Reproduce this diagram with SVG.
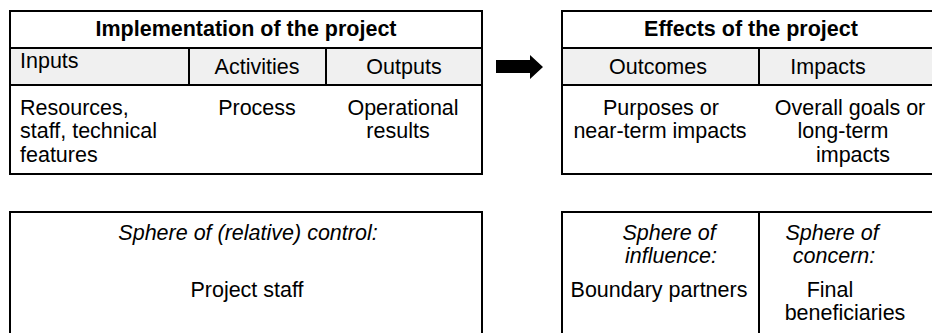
<svg xmlns="http://www.w3.org/2000/svg" width="932" height="333" viewBox="0 0 932 333">
  <style>
    .frame { fill: #ffffff; stroke: #000000; stroke-width: 2; }
    .band { fill: #f0f0f0; stroke: #000000; stroke-width: 2; }
    .rule { stroke: #000000; stroke-width: 2; }
    text { font-family: "Liberation Sans", Arial, sans-serif; font-size: 21.5px; fill: #000000; }
    .c { text-anchor: middle; }
    .b { font-weight: bold; }
    .i { font-style: italic; }
  </style>

  <rect width="932" height="333" fill="#ffffff"/>

  <!-- Implementation of the project -->
  <g id="implementation">
    <rect class="frame" x="10" y="11" width="472" height="163"/>
    <rect class="band" x="10" y="48" width="472" height="37"/>
    <line class="rule" x1="189" y1="48" x2="189" y2="85"/>
    <line class="rule" x1="326" y1="48" x2="326" y2="85"/>
    <text class="c b" x="246" y="36">Implementation of the project</text>
    <text x="20" y="68">Inputs</text>
    <text class="c" x="257" y="74">Activities</text>
    <text class="c" x="404" y="74">Outputs</text>
    <text x="20" y="115">Resources,</text>
    <text x="20" y="138">staff, technical</text>
    <text x="20" y="162">features</text>
    <text class="c" x="257" y="115">Process</text>
    <text class="c" x="403" y="115">Operational</text>
    <text class="c" x="398" y="138">results</text>
  </g>

  <!-- Effects of the project -->
  <g id="effects">
    <rect class="frame" x="562" y="11" width="390" height="163"/>
    <rect class="band" x="562" y="48" width="390" height="37"/>
    <line class="rule" x1="759" y1="48" x2="759" y2="85"/>
    <text class="c b" x="751" y="36">Effects of the project</text>
    <text class="c" x="658" y="74">Outcomes</text>
    <text class="c" x="828" y="74">Impacts</text>
    <text class="c" x="661" y="115">Purposes or</text>
    <text class="c" x="660" y="138">near-term impacts</text>
    <text class="c" x="850" y="115">Overall goals or</text>
    <text class="c" x="843" y="138">long-term</text>
    <text class="c" x="853" y="162">impacts</text>
  </g>

  <!-- Sphere of control -->
  <g id="control">
    <rect class="frame" x="10" y="212" width="472" height="140"/>
    <text class="c i" x="248" y="240">Sphere of (relative) control:</text>
    <text class="c" x="247" y="297">Project staff</text>
  </g>

  <!-- Spheres of influence and concern -->
  <g id="influence">
    <rect class="frame" x="562" y="212" width="390" height="140"/>
    <line class="rule" x1="759" y1="212" x2="759" y2="340"/>
    <text class="c i" x="669" y="240">Sphere of</text>
    <text class="c i" x="671" y="263">influence:</text>
    <text class="c" x="659" y="297">Boundary partners</text>
  </g>
  <g id="concern">
    <text class="c i" x="832" y="240">Sphere of</text>
    <text class="c i" x="834" y="263">concern:</text>
    <text class="c" x="830" y="297">Final</text>
    <text class="c" x="845" y="320">beneficiaries</text>
  </g>

  <!-- Flow from implementation to effects -->
  <g id="connectors">
    <polygon fill="#000000" points="496,60 530,60 530,55 543,67 530,79 530,73 496,73"/>
  </g>
</svg>
